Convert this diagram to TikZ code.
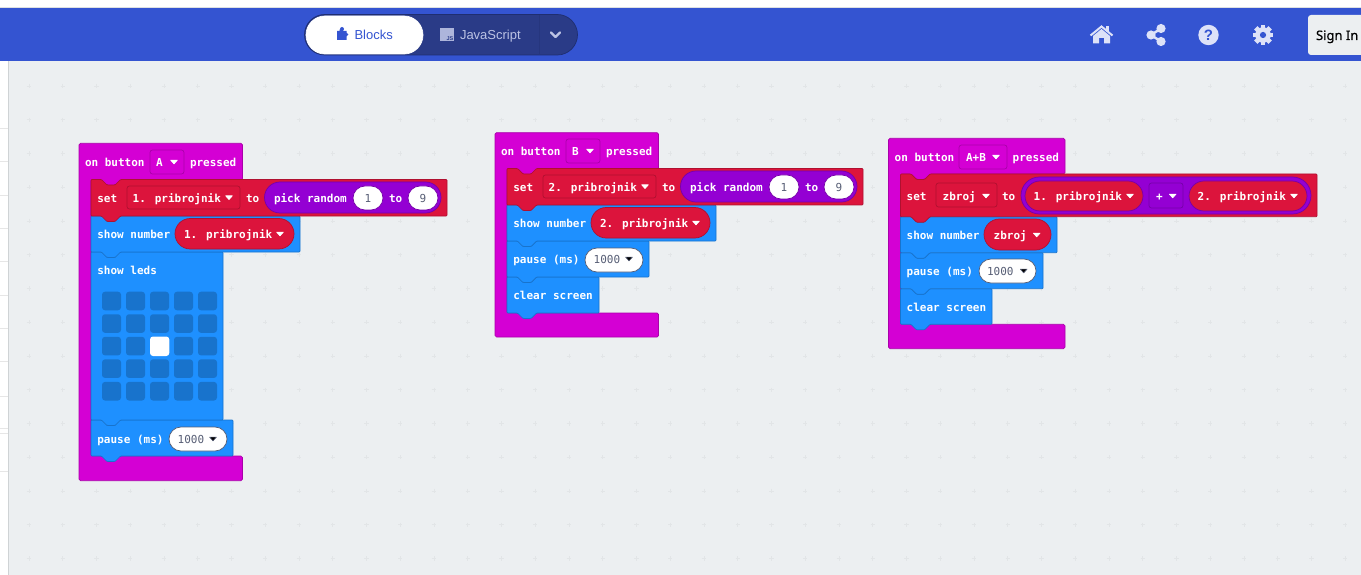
\documentclass[tikz,border=0pt]{standalone}
\usepackage{fontspec}
\newfontfamily\blkfont{DejaVu Sans Mono}
\newfontfamily\uifont{Liberation Sans}
\newfontfamily\signfont[FakeBold=0.4]{Noto Sans}
\definecolor{bg}{HTML}{ECEFF1}
\definecolor{bar}{HTML}{3454D1}
\definecolor{toggle}{HTML}{2A3B87}
\definecolor{toggleedge}{HTML}{1F2E70}
\definecolor{togglediv}{HTML}{26367E}
\definecolor{ico}{HTML}{DDE2F8}
\definecolor{soft}{HTML}{BCC3E4}
\definecolor{gridc}{HTML}{E2E5E7}
\definecolor{stripl}{HTML}{E6E6E6}
\definecolor{edge}{HTML}{CFD3D5}
\definecolor{hatc}{HTML}{D400D4}
\definecolor{hatd}{HTML}{AA00AA}
\definecolor{redc}{HTML}{DC143C}
\definecolor{redd}{HTML}{B01030}
\definecolor{bluec}{HTML}{1E90FF}
\definecolor{blued}{HTML}{1873CC}
\definecolor{purc}{HTML}{9400D3}
\definecolor{purd}{HTML}{7600A9}
\definecolor{numc}{HTML}{575E75}
\newcounter{tn}
\tikzset{
  lab/.style={inner sep=0pt,outer sep=0pt,anchor=base west,text=white,font=\blkfont\bfseries\fontsize{11}{13}\selectfont},
  num/.style={inner sep=0pt,outer sep=0pt,anchor=base west,text=numc,font=\blkfont\fontsize{11}{13}\selectfont},
  numc/.style={num,anchor=base},
  ui/.style={inner sep=0pt,outer sep=0pt,anchor=base west,font=\uifont\fontsize{13}{15}\selectfont},
}
\newcommand{\Lb}[4][lab]{\stepcounter{tn}\node[#1] (t\arabic{tn}) at (#2,#3) {#4};}
\newcommand{\blockp}[6]{\draw[fill=#5,draw=#6,line width=0.7pt,rounded corners=0.9pt]
  (#1,#2) -- (#1+10.5,#2) -- (#1+16,#2+5.5) -- (#1+24,#2+5.5) -- (#1+29.5,#2) -- (#3,#2) -- (#3,#4)
  -- (#1+29.5,#4) -- (#1+24,#4+5.5) -- (#1+16,#4+5.5) -- (#1+10.5,#4) -- (#1,#4) -- cycle;}
% hat: left,top,right,armY,innerX,lowerY,bottom
\newcommand{\hatblk}[7]{\draw[fill=hatc,draw=hatd,line width=0.7pt,rounded corners=1.5pt]
  (#1,#2) -- (#3,#2) -- (#3,#4) -- (#5+29.5,#4) -- (#5+24,#4+5.5) -- (#5+16,#4+5.5) -- (#5+10.5,#4) -- (#5,#4)
  -- (#5,#6) -- (#3,#6) -- (#3,#7) -- (#1,#7) -- cycle;}
\newcommand{\pill}[6]{\pgfmathsetmacro{\rr}{(#4-#2)/2-0.01}\draw[fill=#5,draw=#6,line width=0.7pt,rounded corners=\rr pt] (#1,#2) rectangle (#3,#4);}
\newcommand{\drop}[6]{\draw[fill=#5,draw=#6,line width=0.7pt,rounded corners=2.5pt] (#1,#2) rectangle (#3,#4);}
\newcommand{\arw}[3]{\fill[#3,draw=#3,line width=0.6pt,line join=round] (#1-3.4,#2-1.9) -- (#1+3.4,#2-1.9) -- (#1,#2+1.9) -- cycle;}
\begin{document}
\begin{tikzpicture}[x=1pt,y=-1pt]
\useasboundingbox (0,0) rectangle (1361,575);
% page
\fill[white] (0,0) rectangle (1361,575);
\fill[bg] (8.5,61) rectangle (1361,575);
\foreach \yy in {128,161,195,228,261,295,328,361,396,428,433,471} \draw[stripl,line width=0.7pt] (0,\yy) -- (8,\yy);
\draw[edge,line width=1pt] (8.3,61) -- (8.3,575);
\foreach \ii in {0,...,39} \foreach \jj in {0,...,14} {
  \pgfmathsetmacro{\cx}{29+33.75*\ii}\pgfmathsetmacro{\cy}{86+33.75*\jj}
  \draw[gridc,line width=0.9pt] (\cx-2.2,\cy) -- (\cx+2.2,\cy) (\cx,\cy-2.2) -- (\cx,\cy+2.2);
}
% header
\fill[bar] (0,8) rectangle (1361,61);
\draw[edge!70!white,line width=0.7pt] (0,7.6) -- (1361,7.6);
\pill{304.5}{14.5}{577.5}{55}{toggle}{toggleedge}
\draw[togglediv,line width=0.7pt] (539,15) -- (539,55);
\pill{306}{16}{423}{54}{white}{white}
\fill[bar] (337,31) rectangle (346.5,40) (339.5,29.5) rectangle (343,32);
\fill[bar] (342,29) circle (2) (346.5,34.5) circle (1.8);
\Lb[ui,text=bar]{354.5}{39.5}{Blocks}
\fill[soft!90!toggle] (440,28) rectangle (454,41.5);
\Lb[ui,text=toggle,font=\uifont\bfseries\fontsize{5.5}{6}\selectfont]{446.5}{40.5}{JS}
\Lb[ui,text=soft]{460}{39.5}{JavaScript}
\draw[soft,line width=2.2pt,line cap=round,line join=round] (551,32.5) -- (555.5,37) -- (560,32.5);
% home
\draw[ico,line width=2pt,line join=miter] (1090.5,35.5) -- (1101.5,26.5) -- (1112.5,35.5);
\fill[ico] (1106,26) rectangle (1109,32);
\fill[ico] (1101.5,29) -- (1110,36) -- (1110,43.5) -- (1104,43.5) -- (1104,38) -- (1099,38) -- (1099,43.5) -- (1093,43.5) -- (1093,36) -- cycle;
% share
\draw[ico,line width=2.4pt] (1161,28.5) -- (1151,35) -- (1161,41.5);
\fill[ico] (1161,28.5) circle (4.6) (1151,35) circle (4.6) (1161,41.5) circle (4.6);
% help
\fill[ico] (1208.5,35) circle (10.2);
\stepcounter{tn}\node[inner sep=0pt,text=bar,font=\uifont\bfseries\fontsize{15}{15}\selectfont] (t\arabic{tn}) at (1208.5,35) {?};
% gear
\foreach \aa in {0,45,...,315} \fill[ico,rotate around={\aa:(1263,35)}] (1260.6,24.8) rectangle (1265.4,29);
\fill[ico] (1263,35) circle (7.8);
\fill[bar] (1263,35) circle (3.1);
% sign in
\fill[bg,rounded corners=3pt] (1308,15) rectangle (1370,55);
\Lb[ui,text=black,font=\signfont\fontsize{13}{15}\selectfont]{1316}{40}{Sign In}

% --- block A
\hatblk{79}{143.3}{242.5}{180}{91}{456}{480.7}
\blockp{91}{420}{233}{456}{bluec}{blued}
\blockp{91}{252}{223}{420}{bluec}{blued}
\foreach \ii in {0,...,4} \foreach \jj in {0,...,4} {
  \pgfmathsetmacro{\cx}{102+24*\ii}\pgfmathsetmacro{\cy}{291.7+22.55*\jj}
  \fill[blued,rounded corners=3pt] (\cx,\cy) rectangle (\cx+19,\cy+18.6);
}
\fill[white,rounded corners=3pt] (150,336.5) rectangle (169.3,356);
\blockp{91}{216}{300}{252}{bluec}{blued}
\blockp{91}{179.5}{447}{216}{redc}{redd}
\drop{150}{150}{184}{174}{hatc}{hatd}
\Lb{85}{166.5}{on button}\Lb{156}{166.5}{A}\arw{174}{162}{white}\Lb{190}{166.5}{pressed}
\drop{127}{186}{240}{209}{redc}{redd}
\pill{264.5}{182}{441}{213}{purc}{purd}
\pill{353}{186}{383}{210}{white}{purd}
\pill{408}{186}{438}{210}{white}{purd}
\Lb{97.3}{202.5}{set}\Lb{132.7}{202.5}{1. pribrojnik}\arw{229}{197.7}{white}\Lb{246}{202.5}{to}
\Lb{274}{202.5}{pick random}\Lb[numc]{368}{202.5}{1}\Lb{389}{202.5}{to}\Lb[numc]{423}{202.5}{9}
\pill{175}{218.5}{294}{249}{redc}{redd}
\Lb{97.3}{238.5}{show number}\Lb{184}{238.5}{1. pribrojnik}\arw{280}{234}{white}
\Lb{97.3}{274}{show leds}
\pill{169}{427}{227}{451}{white}{numc}
\Lb{97.3}{443}{pause (ms)}\Lb[num]{177.7}{443}{1000}\arw{213}{439}{numc}

% --- block B
\begin{scope}[shift={(416,-11)}]
\hatblk{79}{143.7}{242.5}{180}{91}{324}{348}
\blockp{91}{288}{183}{324}{bluec}{blued}
\blockp{91}{252}{233}{288}{bluec}{blued}
\blockp{91}{216}{300}{252}{bluec}{blued}
\blockp{91}{179.5}{447}{216}{redc}{redd}
\drop{150}{150}{184}{174}{hatc}{hatd}
\Lb{85}{166.5}{on button}\Lb{156}{166.5}{B}\arw{174}{162}{white}\Lb{190}{166.5}{pressed}
\drop{127}{186}{240}{209}{redc}{redd}
\pill{264.5}{182}{441}{213}{purc}{purd}
\pill{353}{186}{383}{210}{white}{purd}
\pill{408}{186}{438}{210}{white}{purd}
\Lb{97.3}{202.5}{set}\Lb{132.7}{202.5}{2. pribrojnik}\arw{229}{197.7}{white}\Lb{246}{202.5}{to}
\Lb{274}{202.5}{pick random}\Lb[numc]{368}{202.5}{1}\Lb{389}{202.5}{to}\Lb[numc]{423}{202.5}{9}
\pill{175}{218.5}{294}{249}{redc}{redd}
\Lb{97.3}{238.5}{show number}\Lb{184}{238.5}{2. pribrojnik}\arw{280}{234}{white}
\pill{169}{259}{227}{283}{white}{numc}
\Lb{97.3}{274}{pause (ms)}\Lb[num]{177.7}{274}{1000}\arw{213}{270}{numc}
\Lb{97.3}{310}{clear screen}
\end{scope}

% --- block C
\hatblk{888.5}{138.3}{1065}{174}{900.5}{324.3}{348.7}
\blockp{900.5}{288.7}{992}{324.3}{bluec}{blued}
\blockp{900.5}{252.7}{1043}{288.7}{bluec}{blued}
\blockp{900.5}{216.7}{1057}{252.7}{bluec}{blued}
\blockp{900.5}{174}{1317}{216.7}{redc}{redd}
\drop{959}{145}{1007}{169}{hatc}{hatd}
\Lb{894.7}{161.8}{on button}\Lb{966}{161.8}{A+B}\arw{996}{157}{white}\Lb{1012.7}{161.8}{pressed}
\drop{936}{183}{997}{207}{redc}{redd}
\pill{1021}{177}{1311}{214}{purc}{purd}
\pill{1025}{181}{1143}{211}{redc}{purd}
\drop{1149}{183}{1183}{208}{purc}{purd}
\pill{1189}{181}{1307}{211}{redc}{purd}
\Lb{906.7}{200.7}{set}\Lb{942.7}{200.7}{zbroj}\arw{986}{196}{white}\Lb{1002}{200.7}{to}
\Lb{1033.7}{200.7}{1. pribrojnik}\arw{1130}{196}{white}
\Lb{1156}{200.7}{+}\arw{1172.7}{196}{white}
\Lb{1197.7}{200.7}{2. pribrojnik}\arw{1294}{196}{white}
\pill{984}{219}{1051}{250}{redc}{redd}
\Lb{906.7}{239}{show number}\Lb{993.7}{239}{zbroj}\arw{1036.7}{235}{white}
\pill{979}{259}{1036}{283}{white}{numc}
\Lb{906.7}{275}{pause (ms)}\Lb[num]{987}{275}{1000}\arw{1023.7}{271}{numc}
\Lb{906.7}{311}{clear screen}
\end{tikzpicture}
\end{document}
